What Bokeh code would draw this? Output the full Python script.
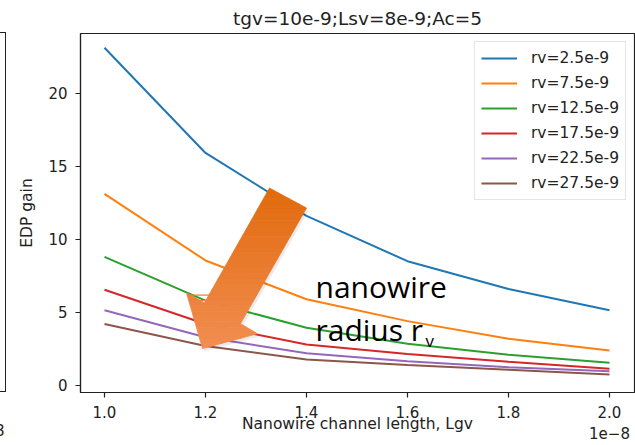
import numpy as np
from bokeh.plotting import figure
from bokeh.layouts import row
from bokeh.models import Range1d, Label, FixedTicker, PrintfTickFormatter, Div
from bokeh.embed import file_html
from bokeh.resources import INLINE

# ---------------- data ----------------
TITLE = "tgv=10e-9;Lsv=8e-9;Ac=5"
X_LABEL = "Nanowire channel length, Lgv"
Y_LABEL = "EDP gain"
X_OFFSET_TEXT = "1e\u22128"

lgv = [1.0, 1.2, 1.4, 1.6, 1.8, 2.0]          # x 1e-8 m
rv_labels = ["rv=2.5e-9", "rv=7.5e-9", "rv=12.5e-9",
             "rv=17.5e-9", "rv=22.5e-9", "rv=27.5e-9"]
gain_rv_2_5 = [23.1, 15.9, 11.6, 8.5, 6.6, 5.15]
gain_rv_7_5 = [13.1, 8.55, 5.9, 4.4, 3.2, 2.4]
gain_rv_12_5 = [8.8, 5.8, 3.95, 2.85, 2.1, 1.55]
gain_rv_17_5 = [6.55, 4.2, 2.8, 2.15, 1.62, 1.15]
gain_rv_22_5 = [5.15, 3.3, 2.2, 1.65, 1.25, 0.97]
gain_rv_27_5 = [4.2, 2.7, 1.78, 1.4, 1.08, 0.75]
series = [gain_rv_2_5, gain_rv_7_5, gain_rv_12_5,
          gain_rv_17_5, gain_rv_22_5, gain_rv_27_5]
x_ticks = [1.0, 1.2, 1.4, 1.6, 1.8, 2.0]
y_ticks = [0, 5, 10, 15, 20]

# ---------------- style ----------------
colors = ["#1f77b4", "#ff7f0e", "#2ca02c", "#d62728", "#9467bd", "#8c564b"]
W, H = 635, 445
LEFT_STRIP = 8
FL, FR, FT, FB = 80, 634, 32, 392          # frame edges in page px
X0, X1 = 0.9525, 2.0495
Y0, Y1 = -0.48, 24.07
FONT = "DejaVu Sans"

def px2x(px):
    return X0 + (px - FL) / (FR - FL) * (X1 - X0)

def py2y(py):
    return Y0 + (FB - py) / (FB - FT) * (Y1 - Y0)

p = figure(width=W - LEFT_STRIP, height=H, output_backend="svg", toolbar_location=None,
           x_range=Range1d(X0, X1), y_range=Range1d(Y0, Y1),
           min_border_left=FL - LEFT_STRIP, min_border_right=W - FR,
           min_border_top=FT, min_border_bottom=H - FB)
p.background_fill_color = "white"
p.border_fill_color = "white"
p.outline_line_color = "#222222"
p.outline_line_width = 1.2
p.xgrid.visible = False
p.ygrid.visible = False

p.title.text = TITLE
p.title.align = "center"
p.title.text_font = FONT
p.title.text_font_size = "18.5px"
p.title.text_font_style = "normal"
p.title.text_color = "#222222"
p.title.standoff = 10

for ax in (p.xaxis[0], p.yaxis[0]):
    ax.axis_line_color = "#222222"
    ax.axis_line_width = 1.2
    ax.major_tick_line_color = "#222222"
    ax.major_tick_line_width = 1.2
    ax.major_tick_out = 5
    ax.major_tick_in = 0
    ax.minor_tick_line_color = None
    ax.major_label_text_font = FONT
    ax.major_label_text_font_size = "15px"
    ax.major_label_text_color = "#222222"
    ax.axis_label_text_font = FONT
    ax.axis_label_text_font_size = "15.5px"
    ax.axis_label_text_font_style = "normal"
    ax.axis_label_text_color = "#222222"

p.xaxis.ticker = FixedTicker(ticks=x_ticks)
p.xaxis.formatter = PrintfTickFormatter(format="%.1f")
p.xaxis.major_label_overrides = {x_ticks[-1]: "%.1f\n%s" % (x_ticks[-1], X_OFFSET_TEXT)}
p.xaxis.axis_label = X_LABEL
p.xaxis.major_label_standoff = 6
p.xaxis.axis_label_standoff = -31
p.yaxis.ticker = FixedTicker(ticks=y_ticks)
p.yaxis.axis_label = Y_LABEL
p.yaxis.major_label_standoff = 8
p.yaxis.axis_label_standoff = 9

for ys, lab, c in zip(series, rv_labels, colors):
    p.line(lgv, ys, line_color=c, line_width=2, legend_label=lab)

lg = p.legend[0]
lg.location = "top_right"
lg.margin = 8
lg.padding = 6
lg.spacing = 5
lg.glyph_width = 36
lg.glyph_height = 20
lg.label_height = 20
lg.label_standoff = 14
lg.label_text_font = FONT
lg.label_text_font_size = "15.5px"
lg.label_text_color = "#222222"
lg.border_line_color = "#cccccc"
lg.border_line_width = 1
lg.background_fill_alpha = 0.8

# ---------------- overlaid orange arrow (annotation, px shape) ----------------
ARROW_PX = [(269, 187), (306, 207), (240, 323), (257, 333),
            (202, 348), (186, 292), (204, 302)]

def clip_half(poly, y0, keep_ge):
    out = []
    n = len(poly)
    for i in range(n):
        cur, prev = poly[i], poly[i - 1]
        cin = cur[1] >= y0 if keep_ge else cur[1] <= y0
        pin = prev[1] >= y0 if keep_ge else prev[1] <= y0
        if cin != pin:
            t = (y0 - prev[1]) / (cur[1] - prev[1])
            out.append((prev[0] + t * (cur[0] - prev[0]), y0))
        if cin:
            out.append(cur)
    return out

# soft shadow
p.patch([px2x(a + 2) for a, b in ARROW_PX], [py2y(b + 3) for a, b in ARROW_PX],
        fill_color="black", fill_alpha=0.08, line_color=None)

c_top = np.array([226, 106, 12])
c_bot = np.array([242, 142, 82])
ymin = min(b for a, b in ARROW_PX)
ymax = max(b for a, b in ARROW_PX)
nstrip = 30
edges = np.linspace(ymin, ymax, nstrip + 1)
for i in range(nstrip):
    poly = clip_half(ARROW_PX, edges[i], True)
    poly = clip_half(poly, edges[i + 1], False)
    if len(poly) < 3:
        continue
    f = (i + 0.5) / nstrip
    c = (c_top + f * (c_bot - c_top)).astype(int)
    col = "#%02x%02x%02x" % tuple(c)
    p.patch([px2x(a) for a, b in poly], [py2y(b) for a, b in poly],
            fill_color=col, line_color=col, line_width=0.8)

# callout text
CALLOUT_FONT = "Open Sans"
p.add_layout(Label(x=px2x(315), y=py2y(299 - 13), text="nanowire",
                   text_font=CALLOUT_FONT, text_font_size="30px",
                   text_color="black", text_baseline="alphabetic"))
p.add_layout(Label(x=px2x(315), y=py2y(342 - 13), text="radius r",
                   text_font=CALLOUT_FONT, text_font_size="30px",
                   text_color="black", text_baseline="alphabetic"))
p.add_layout(Label(x=px2x(425), y=py2y(348 - 8), text="v",
                   text_font=CALLOUT_FONT, text_font_size="17px",
                   text_color="black", text_baseline="alphabetic"))

# fragment of the neighbouring panel at the left edge
left_html = (
    '<div style="width:%dpx;height:%dpx;overflow:hidden;position:relative;">'
    '<div style="position:absolute;left:-10px;top:32px;width:16px;height:360px;'
    'border:1.2px solid #222222;"></div>'
    '<div style="position:absolute;left:-5px;top:422px;font-family:\'DejaVu Sans\';'
    'font-size:15px;line-height:18px;color:#222222;">8</div>'
    '</div>' % (LEFT_STRIP, H)
)
left = Div(text=left_html, width=LEFT_STRIP, height=H, margin=(0, 0, 0, 0))

layout = row(left, p, spacing=0)
open("out.html", "w").write(file_html(layout, INLINE))
